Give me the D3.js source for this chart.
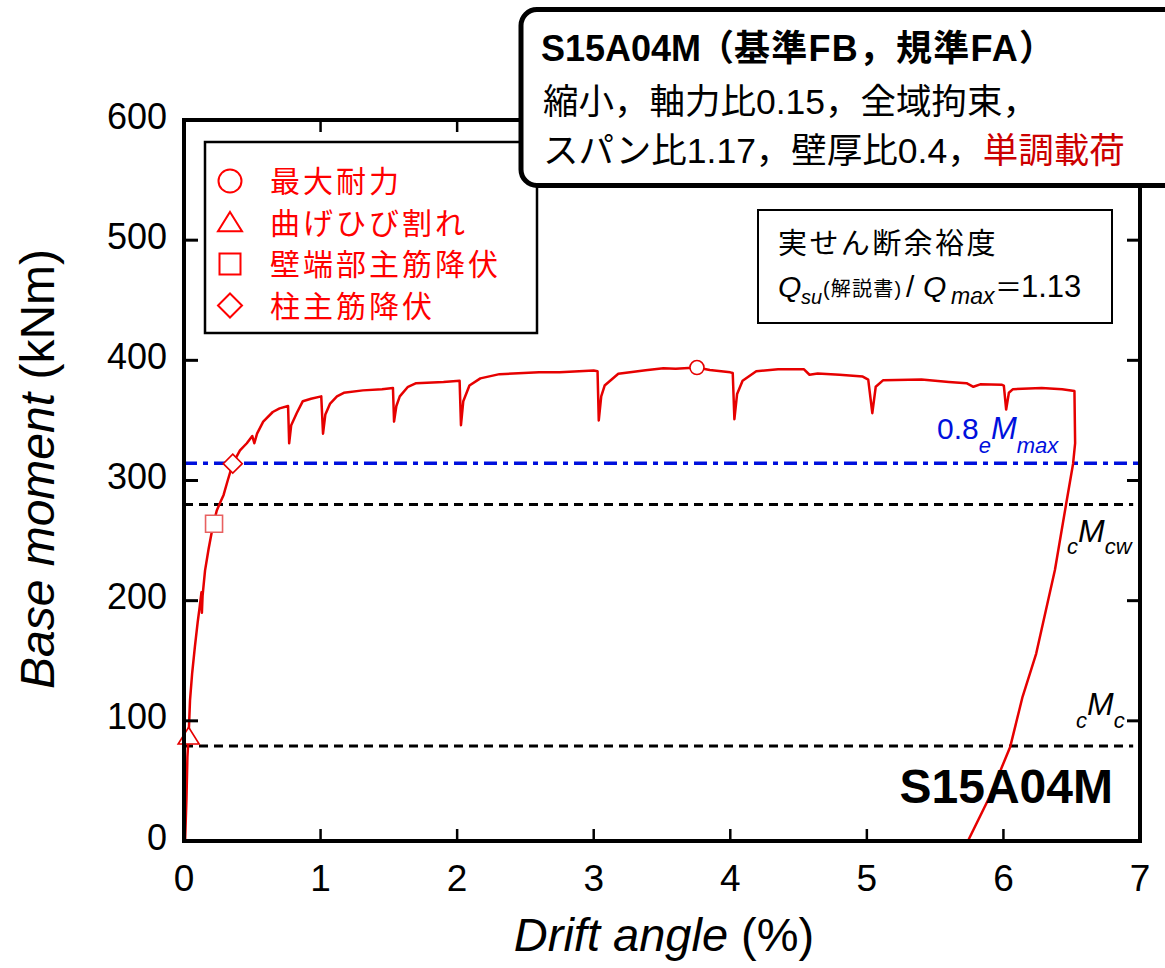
<!DOCTYPE html>
<html><head><meta charset="utf-8">
<script src="https://cdn.jsdelivr.net/npm/d3@7"></script>
<style>
body{margin:0;background:#fff}
svg{display:block}
text{font-family:"Liberation Sans",Arial,"Noto Sans CJK JP",sans-serif}
</style>
</head><body>
<svg id="chart" width="1165" height="968"></svg>
<script>
// ---- data ----
const xTicks = [0, 1, 2, 3, 4, 5, 6, 7];
const yTicks = [0, 100, 200, 300, 400, 500, 600];

const curveDrift = [0.008,0.018,0.025,0.034,0.044,0.06,0.08,0.10,0.115,0.128,0.131,0.136,0.154,0.18,0.203,0.22,0.24,0.27,0.29,0.32,0.357,0.41,0.46,0.50,0.515,0.535,0.58,0.65,0.70,0.762,0.770,0.785,0.825,0.87,0.93,1.005,1.018,1.035,1.07,1.12,1.17,1.31,1.45,1.53,1.538,1.555,1.58,1.64,1.70,1.90,2.018,2.028,2.045,2.09,2.17,2.31,2.6,2.75,3.0,3.028,3.037,3.055,3.08,3.18,3.38,3.51,3.6,3.756,3.85,4.0,4.018,4.03,4.05,4.09,4.19,4.35,4.54,4.58,4.64,4.8,4.97,5.01,5.04,5.065,5.12,5.40,5.6,5.73,5.78,5.83,5.99,6.003,6.02,6.04,6.07,6.28,6.43,6.52,6.525,6.51,6.457,6.377,6.24,6.14,6.05,5.90,5.74];
const curveMoment = [0,35,70,88,117,140,162,182,195,207,190,204,225,243,257,266,275,283,288,300,314,325,331,337,331,339,349,357,360,362,331,346,356,366,368,370,339,355,364,370,373,375,376,377,349,362,370,378,381,382,383,346,366,379,385,388.5,390,390,391.5,391,350,370,379,388.8,391.7,393.4,393,394,392,390,389.5,351,372,383,391,392.5,392.5,388,389,388,386.5,384,356,378,383.5,384,382,381,378,380,379.6,379,359,373,376,377,376,374.5,331,314,279,225.5,156,120,78.5,37,0];

const markerNames  = ["最大耐力", "曲げひび割れ", "壁端部主筋降伏", "柱主筋降伏"];
const markerShapes = ["circle", "triangle", "square", "diamond"];
const markerDrift  = [3.756, 0.034, 0.22, 0.357];
const markerMoment = [394, 87, 264, 314];

const refLevels = [314.4, 280, 79];   // 0.8eMmax, cMcw, cMc

// ---- layout ----
const svg = d3.select("#chart");
const x = d3.scaleLinear().domain([0, 7]).range([184, 1140]);
const y = d3.scaleLinear().domain([0, 600]).range([841, 120]);
const RED = "#e60000";

// reference lines
svg.append("line").attr("x1", x(0)).attr("x2", x(7)).attr("y1", y(refLevels[0])).attr("y2", y(refLevels[0]))
  .attr("stroke", "#0010dd").attr("stroke-width", 3.5).attr("stroke-dasharray", "13,6,5,6");
[refLevels[1], refLevels[2]].forEach(v => {
  svg.append("line").attr("x1", x(0)).attr("x2", x(6.95)).attr("y1", y(v)).attr("y2", y(v))
    .attr("stroke", "#000").attr("stroke-width", 3).attr("stroke-dasharray", "9,6");
});

// curve
const pts = curveDrift.map((d, i) => [d, curveMoment[i]]);
svg.append("path").datum(pts)
  .attr("d", d3.line().x(d => x(d[0])).y(d => y(d[1])))
  .attr("fill", "none").attr("stroke", RED).attr("stroke-width", 2.5).attr("stroke-linejoin", "round");

// marker shapes
function shapePath(type, s) {
  if (type === "circle") { const r = s / 2; return `M${-r},0A${r},${r} 0 1,0 ${r},0A${r},${r} 0 1,0 ${-r},0Z`; }
  if (type === "triangle") { const w = s / 2, h = s * 0.8; return `M0,${-h * 0.55}L${w},${h * 0.45}L${-w},${h * 0.45}Z`; }
  if (type === "square") { const h = s / 2; return `M${-h},${-h}H${h}V${h}H${-h}Z`; }
  const h = s / 2; return `M0,${-h}L${h},0L0,${h}L${-h},0Z`;
}
const markerSizes = [14, 21, 17, 19];
const markerStroke = [RED, RED, "#e86060", RED];
markerShapes.forEach((t, i) => {
  svg.append("path").attr("d", shapePath(t, markerSizes[i]))
    .attr("transform", `translate(${x(markerDrift[i])},${y(markerMoment[i])})`)
    .attr("fill", "#fff").attr("stroke", markerStroke[i]).attr("stroke-width", 1.6);
});

// frame + ticks
svg.append("rect").attr("x", x(0)).attr("y", y(600)).attr("width", x(7) - x(0)).attr("height", y(0) - y(600))
  .attr("fill", "none").attr("stroke", "#000").attr("stroke-width", 4);
yTicks.forEach(v => {
  svg.append("line").attr("x1", x(0)).attr("x2", x(0) + 14).attr("y1", y(v)).attr("y2", y(v)).attr("stroke", "#000").attr("stroke-width", 3);
  svg.append("line").attr("x1", x(7) - 13).attr("x2", x(7)).attr("y1", y(v)).attr("y2", y(v)).attr("stroke", "#000").attr("stroke-width", 3);
  svg.append("text").attr("x", 167).attr("y", y(v) + 8.5).attr("text-anchor", "end")
    .attr("font-size", 36).text(v);
});
xTicks.forEach(v => {
  svg.append("line").attr("x1", x(v)).attr("x2", x(v)).attr("y1", y(0)).attr("y2", y(0) - 12).attr("stroke", "#000").attr("stroke-width", 2.5);
  svg.append("line").attr("x1", x(v)).attr("x2", x(v)).attr("y1", y(600)).attr("y2", y(600) + 12).attr("stroke", "#000").attr("stroke-width", 2.5);
  svg.append("text").attr("x", x(v)).attr("y", 890.5).attr("text-anchor", "middle")
    .attr("font-size", 37).text(v);
});

// axis titles
const xt = svg.append("text").attr("x", 664).attr("y", 951).attr("text-anchor", "middle").attr("font-size", 47);
xt.append("tspan").attr("font-style", "italic").text("Drift angle");
xt.append("tspan").text(" (%)");
const yt = svg.append("text").attr("transform", "translate(54,469) rotate(-90)").attr("text-anchor", "middle").attr("font-size", 48);
yt.append("tspan").attr("font-style", "italic").text("Base moment");
yt.append("tspan").text(" (kNm)");

// reference-line labels
const l1 = svg.append("text").attr("x", 937).attr("y", y(refLevels[0]) - 24).attr("fill", "#0010dd").attr("font-size", 30);
l1.append("tspan").text("0.8");
l1.append("tspan").attr("font-size", 22).attr("font-style", "italic").attr("dy", 14).text("e");
l1.append("tspan").attr("font-size", 31).attr("font-style", "italic").attr("dy", -14).text("M");
l1.append("tspan").attr("font-size", 22).attr("font-style", "italic").attr("dy", 14).text("max");

const l2 = svg.append("text").attr("x", 1067).attr("y", y(refLevels[1]) + 49).attr("font-size", 22).attr("font-style", "italic");
l2.append("tspan").text("c");
l2.append("tspan").attr("font-size", 32).attr("dy", -12).text("M");
l2.append("tspan").attr("dy", 12).text("cw");

const l3 = svg.append("text").attr("x", 1076).attr("y", y(100) + 7).attr("font-size", 22).attr("font-style", "italic");
l3.append("tspan").text("c");
l3.append("tspan").attr("font-size", 32).attr("dy", -13).text("M");
l3.append("tspan").attr("dy", 13).text("c");

svg.append("text").attr("x", 1113).attr("y", 803).attr("text-anchor", "end")
  .attr("font-size", 48).attr("font-weight", "bold").text("S15A04M");

// legend
svg.append("rect").attr("x", 205).attr("y", 142).attr("width", 332).attr("height", 191)
  .attr("fill", "#fff").attr("stroke", "#000").attr("stroke-width", 2.5);
const legSizes = [23, 24, 21, 24];
markerNames.forEach((name, i) => {
  const cy = 181 + i * 41.5;
  svg.append("path").attr("d", shapePath(markerShapes[i], legSizes[i]))
    .attr("transform", `translate(230,${cy})`)
    .attr("fill", "none").attr("stroke", "#ff0000").attr("stroke-width", 2);
  svg.append("text").attr("x", 270).attr("y", cy + 11).attr("fill", "#ff0000")
    .attr("font-size", 30).attr("letter-spacing", 3).text(name);
});

// shear margin box
svg.append("rect").attr("x", 758).attr("y", 210).attr("width", 354).attr("height", 113)
  .attr("fill", "#fff").attr("stroke", "#000").attr("stroke-width", 2);
svg.append("text").attr("x", 778).attr("y", 254).attr("font-size", 29).attr("letter-spacing", 2.4).text("実せん断余裕度");
const q = svg.append("text").attr("y", 297).attr("font-size", 30);
q.append("tspan").attr("x", 778).attr("font-style", "italic").text("Q");
q.append("tspan").attr("x", 801).attr("y", 304).attr("font-size", 20).attr("font-style", "italic").text("su");
q.append("tspan").attr("x", 823).attr("y", 296).attr("font-size", 20).attr("letter-spacing", 1.2).text("(解説書)");
q.append("tspan").attr("x", 906).attr("y", 297).text("/");
q.append("tspan").attr("x", 923).attr("font-style", "italic").text("Q");
q.append("tspan").attr("x", 951).attr("y", 304).attr("font-size", 23).attr("font-style", "italic").text("max");
q.append("tspan").attr("x", 995).attr("y", 297).attr("font-size", 27).text("＝");
q.append("tspan").attr("x", 1021).attr("font-size", 31).text("1.13");

// specimen info box
svg.append("rect").attr("x", 521).attr("y", 9.5).attr("width", 700).attr("height", 176).attr("rx", 16)
  .attr("fill", "#fff").attr("stroke", "#000").attr("stroke-width", 5);
const t1 = svg.append("text").attr("x", 541).attr("y", 61).attr("font-weight", "bold");
t1.append("tspan").attr("font-size", 36).text("S15A04M");
t1.append("tspan").attr("font-size", 36).attr("dx", -3).text("（");
t1.append("tspan").attr("font-size", 36).attr("letter-spacing", 1.2).text("基準FB，規準FA）");
svg.append("text").attr("x", 543).attr("y", 114).attr("font-size", 35.5).text("縮小，軸力比0.15，全域拘束，");
const t3 = svg.append("text").attr("x", 543).attr("y", 163).attr("font-size", 35.5);
t3.append("tspan").text("スパン比1.17，壁厚比0.4，");
t3.append("tspan").attr("fill", "#cc0000").text("単調載荷");
</script>
</body></html>
